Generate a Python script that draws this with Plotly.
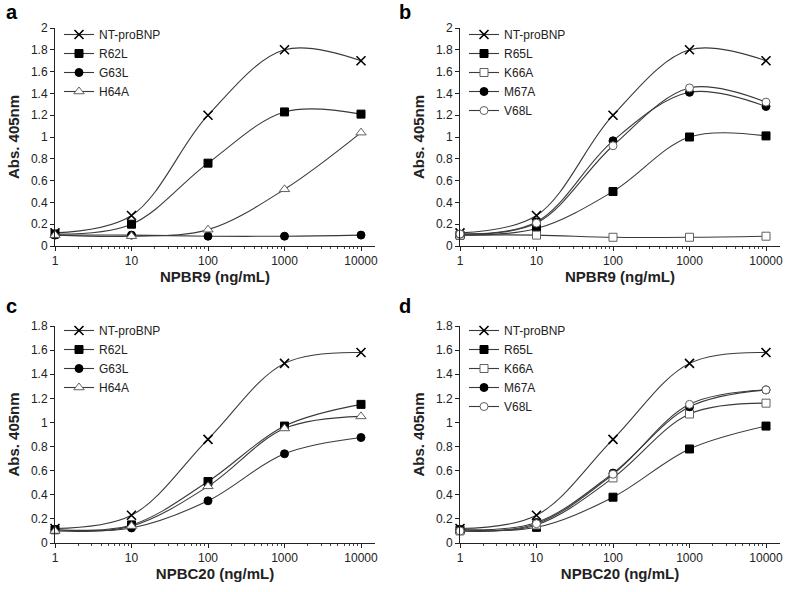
import math
import plotly.graph_objects as go

# ---------------- data ----------------
conc = [1, 10, 100, 1000, 10000]
conc_labels = ["1", "10", "100", "1000", "10000"]

# panel a (NPBR9, mutants 62-64)
a_nt = [0.12, 0.28, 1.20, 1.80, 1.70]
a_r62l = [0.11, 0.20, 0.76, 1.23, 1.21]
a_g63l = [0.10, 0.10, 0.09, 0.09, 0.10]
a_h64a = [0.10, 0.09, 0.15, 0.52, 1.04]

# panel b (NPBR9, mutants 65-68)
b_nt = [0.12, 0.28, 1.20, 1.80, 1.70]
b_r65l = [0.10, 0.16, 0.50, 1.00, 1.01]
b_k66a = [0.10, 0.10, 0.08, 0.08, 0.09]
b_m67a = [0.11, 0.22, 0.965, 1.41, 1.28]
b_v68l = [0.11, 0.21, 0.92, 1.45, 1.32]

# panel c (NPBC20, mutants 62-64)
c_nt = [0.12, 0.23, 0.86, 1.49, 1.58]
c_r62l = [0.11, 0.15, 0.51, 0.97, 1.15]
c_g63l = [0.11, 0.125, 0.35, 0.74, 0.875]
c_h64a = [0.10, 0.14, 0.47, 0.95, 1.05]

# panel d (NPBC20, mutants 65-68)
d_nt = [0.12, 0.23, 0.86, 1.49, 1.58]
d_r65l = [0.11, 0.13, 0.38, 0.78, 0.97]
d_k66a = [0.10, 0.15, 0.54, 1.07, 1.16]
d_m67a = [0.11, 0.17, 0.58, 1.13, 1.27]
d_v68l = [0.10, 0.16, 0.57, 1.15, 1.27]

panel_letters = ["a", "b", "c", "d"]
x_titles = ["NPBR9 (ng/mL)", "NPBR9 (ng/mL)", "NPBC20 (ng/mL)", "NPBC20 (ng/mL)"]
y_title = "Abs. 405nm"

# ---------------- styles ----------------
LINE = "#3a3a3a"
GRAY = "#606060"
FONT = "Liberation Sans, Arial, sans-serif"

styles = {
    "x": dict(symbol="x-thin", size=9, color="black", line=dict(width=1.6, color="black")),
    "sq": dict(symbol="square", size=8, color="black", line=dict(width=1, color="black")),
    "ci": dict(symbol="circle", size=8, color="black", line=dict(width=1, color="black")),
    "tri": dict(symbol="triangle-up", size=9, color="white", line=dict(width=1, color=GRAY)),
    "osq": dict(symbol="square", size=8, color="white", line=dict(width=1, color=GRAY)),
    "oci": dict(symbol="circle", size=8, color="white", line=dict(width=1, color=GRAY)),
}

panels = [
    [("NT-proBNP", a_nt, "x"), ("R62L", a_r62l, "sq"), ("G63L", a_g63l, "ci"), ("H64A", a_h64a, "tri")],
    [("NT-proBNP", b_nt, "x"), ("R65L", b_r65l, "sq"), ("K66A", b_k66a, "osq"), ("M67A", b_m67a, "ci"), ("V68L", b_v68l, "oci")],
    [("NT-proBNP", c_nt, "x"), ("R62L", c_r62l, "sq"), ("G63L", c_g63l, "ci"), ("H64A", c_h64a, "tri")],
    [("NT-proBNP", d_nt, "x"), ("R65L", d_r65l, "sq"), ("K66A", d_k66a, "osq"), ("M67A", d_m67a, "ci"), ("V68L", d_v68l, "oci")],
]

W, H = 786, 592
# pixel geometry of each panel: (left, right, top(y of max), bottom(y of 0))
geom = [
    (55, 375, 28, 246),
    (460, 780, 28, 246),
    (55, 375, 326, 543),
    (460, 780, 326, 543),
]
y_ranges = [[0, 2], [0, 2], [0, 1.8], [0, 1.8]]
legend_pos = [(59, 20), (464, 20), (59, 316), (464, 316)]
letter_pos = [(4, 12), (397, 12), (4, 306), (397, 306)]

fig = go.Figure()
layout = dict(
    template="none",
    width=W, height=H,
    margin=dict(l=0, r=0, t=0, b=0),
    paper_bgcolor="white", plot_bgcolor="white",
    font=dict(family=FONT, size=12, color="#222"),
    showlegend=True,
    annotations=[],
)

xmax_log = math.log10(10000) + (14 / 76.5)

for i, series in enumerate(panels):
    n = "" if i == 0 else str(i + 1)
    xa, ya = "x" + n, "y" + n
    lg = "legend" + n
    for name, vals, st in series:
        fig.add_trace(go.Scatter(
            x=conc, y=vals, name=name, mode="lines+markers",
            line=dict(color=LINE, width=1.1, shape="spline", smoothing=1.0),
            marker=styles[st], xaxis=xa, yaxis=ya, legend=lg, cliponaxis=False,
        ))
    L, R, T, B = geom[i]
    layout["xaxis" + n] = dict(
        domain=[L / W, R / W], anchor=ya, type="log", range=[0, xmax_log],
        tickmode="array", tickvals=conc, ticktext=conc_labels,
        ticks="outside", ticklen=4,
        tickcolor="#222", showline=True, linecolor="#222", linewidth=1,
        showgrid=False, zeroline=False, automargin=False,
        ticklabeloverflow="allow",
        minor=dict(ticks="outside", ticklen=2, tickcolor="#444", showgrid=False,
                   tickmode="array",
                   tickvals=[m * d for d in [1, 10, 100, 1000] for m in range(2, 10)]),
        tickfont=dict(size=12, color="#222"),
        title=dict(text="<b>" + x_titles[i] + "</b>", font=dict(size=15, color="#222"), standoff=4),
    )
    layout["yaxis" + n] = dict(
        domain=[1 - B / H, 1 - T / H], anchor=xa, range=y_ranges[i],
        dtick=0.2, ticks="outside", ticklen=4, tickcolor="#222",
        showline=True, linecolor="#222", linewidth=1,
        showgrid=False, zeroline=False, automargin=False,
        tickfont=dict(size=12, color="#222"),
        title=dict(text="<b>" + y_title + "</b>", font=dict(size=15, color="#222"), standoff=7),
    )
    lx, ly = legend_pos[i]
    layout[lg] = dict(
        x=lx / W, y=1 - ly / H, xanchor="left", yanchor="top",
        bgcolor="rgba(0,0,0,0)", font=dict(size=12, color="#222"),
        tracegroupgap=0, itemwidth=30,
    )
    px, py = letter_pos[i]
    layout["annotations"].append(dict(
        text="<b>" + panel_letters[i] + "</b>", x=px / W, y=1 - py / H,
        xref="paper", yref="paper", xanchor="left", yanchor="middle",
        showarrow=False, font=dict(size=20, color="black"),
    ))

fig.update_layout(**layout)
fig.write_html(
    "out.html",
    config={"displayModeBar": False},
    post_script="document.body.style.margin='0px';document.body.style.overflow='hidden';",
)
